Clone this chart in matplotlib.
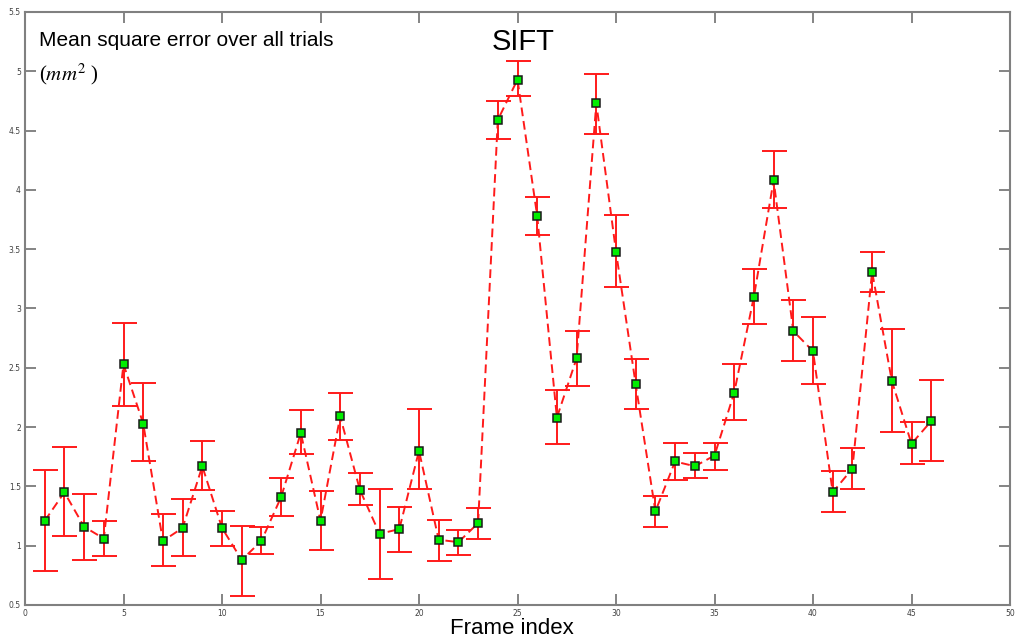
import matplotlib
matplotlib.use("Agg")
import matplotlib.pyplot as plt
import numpy as np

frames = list(range(1, 47))
mse = [1.21, 1.45, 1.16, 1.06, 2.53, 2.03, 1.04, 1.15, 1.67, 1.15,
       0.88, 1.04, 1.41, 1.95, 1.21, 2.09, 1.47, 1.10, 1.14, 1.80,
       1.05, 1.03, 1.19, 4.59, 4.93, 3.78, 2.08, 2.58, 4.73, 3.48,
       2.36, 1.29, 1.71, 1.67, 1.76, 2.29, 3.10, 4.08, 2.81, 2.64,
       1.45, 1.65, 3.31, 2.39, 1.86, 2.05]
lower = [0.79, 1.08, 0.88, 0.91, 2.18, 1.71, 0.83, 0.91, 1.47, 1.00,
         0.58, 0.93, 1.25, 1.77, 0.96, 1.89, 1.34, 0.72, 0.95, 1.48,
         0.87, 0.92, 1.06, 4.43, 4.79, 3.62, 1.86, 2.35, 4.47, 3.18,
         2.15, 1.16, 1.55, 1.57, 1.64, 2.06, 2.87, 3.85, 2.56, 2.36,
         1.28, 1.48, 3.14, 1.96, 1.69, 1.71]
upper = [1.64, 1.83, 1.44, 1.21, 2.88, 2.37, 1.27, 1.39, 1.88, 1.29,
         1.17, 1.16, 1.57, 2.14, 1.46, 2.29, 1.61, 1.48, 1.33, 2.15,
         1.22, 1.13, 1.32, 4.75, 5.09, 3.94, 2.31, 2.81, 4.98, 3.79,
         2.57, 1.42, 1.87, 1.78, 1.87, 2.53, 3.33, 4.33, 3.07, 2.93,
         1.63, 1.82, 3.48, 2.83, 2.04, 2.40]
xticks = [0, 5, 10, 15, 20, 25, 30, 35, 40, 45, 50]
yticks = [0.5, 1, 1.5, 2, 2.5, 3, 3.5, 4, 4.5, 5, 5.5]
ytick_labels = ["0.5", "1", "1.5", "2", "2.5", "3", "3.5", "4", "4.5", "5", "5.5"]

plt.rcParams['mathtext.fontset'] = 'stix'
fig = plt.figure(figsize=(10.18, 6.42), dpi=100)
ax = fig.add_axes([25/1018, 37/642, 985/1018, 593/642])

m = np.array(mse)
yerr = np.vstack([m - np.array(lower), np.array(upper) - m])
ax.errorbar(frames, mse, yerr=yerr, fmt='none', ecolor='#ff1a1a',
            elinewidth=1.4, capsize=9, capthick=1.4, zorder=2)
ax.plot(frames, mse, linestyle=(0, (4.5, 2.5)), color='#ff1a1a', lw=1.4, zorder=3)
ax.plot(frames, mse, linestyle='none', marker='s', markersize=6.3,
        markerfacecolor='#00ee00', markeredgecolor='#1a1a1a',
        markeredgewidth=1.1, zorder=4)

ax.set_xlim(0, 50)
ax.set_ylim(0.5, 5.5)
ax.set_xticks(xticks)
ax.set_yticks(yticks)
ax.set_yticklabels(ytick_labels)
ax.tick_params(direction='in', length=8, width=1.2, color='#707070',
               labelsize=5.5, labelcolor='#404040', top=True, right=True,
               pad=3)
for s in ax.spines.values():
    s.set_color('#808080')
    s.set_linewidth(1.5)

ax.text(0.014, 0.952, "Mean square error over all trials", transform=ax.transAxes,
        fontsize=15, family='Liberation Sans', va='center', ha='left')
ax.text(0.014, 0.895, r"($mm^2$ )", transform=ax.transAxes,
        fontsize=15, va='center', ha='left', family='Liberation Serif')
ax.text(0.474, 0.95, "SIFT", transform=ax.transAxes, fontsize=21,
        family='Liberation Sans', va='center', ha='left')
fig.text(512/1018, 1 - 629/642, "Frame index", fontsize=16,
         family='Liberation Sans', ha='center', va='center')

fig.savefig("out.png", dpi=100)
